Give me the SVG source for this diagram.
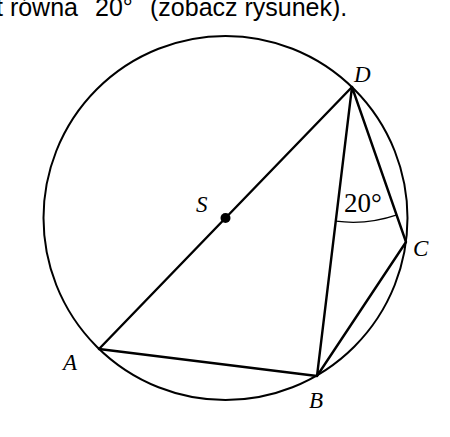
<svg xmlns="http://www.w3.org/2000/svg" width="450" height="437" viewBox="0 0 450 437">
<style>
.ln{fill:none;stroke:#000;stroke-width:2.4;stroke-linecap:round;stroke-linejoin:round}
.circ{fill:none;stroke:#000;stroke-width:2}
.thin{fill:none;stroke:#000;stroke-width:1.2}
.lbl{font-family:"Liberation Serif","DejaVu Serif",serif;font-style:italic;font-size:23px;fill:#000}
.num{font-family:"Liberation Serif","DejaVu Serif",serif;font-size:27px;fill:#000}
.top{font-family:"Liberation Sans",Arial,sans-serif;font-size:25px;fill:#000}
</style>
<rect width="450" height="437" fill="#fff"/>
<text class="top" y="16"><tspan x="-4">t równa</tspan><tspan x="95">20°</tspan><tspan x="150">(zobacz rysunek).</tspan></text>
<g id="circle"><circle class="circ" cx="225.5" cy="218" r="182"/></g>
<g id="connectors">
<line class="ln" x1="99" y1="349" x2="352" y2="87"/>
<polyline class="ln" points="99,349 317,376 352,87 406,242 317,376"/>
<path class="thin" d="M335.9,221.2 A135,135 0 0 0 396.9,214.9"/>
</g>
<g id="S"><circle cx="225.5" cy="218" r="5" fill="#000"/><text class="lbl" x="196" y="212">S</text></g>
<g id="D"><text class="lbl" x="354" y="82">D</text></g>
<g id="C"><text class="lbl" x="413" y="256">C</text></g>
<g id="A"><text class="lbl" x="63" y="370">A</text></g>
<g id="B"><text class="lbl" x="309" y="408">B</text></g>
<g id="angle"><text class="num" x="344" y="212">20°</text></g>
</svg>
